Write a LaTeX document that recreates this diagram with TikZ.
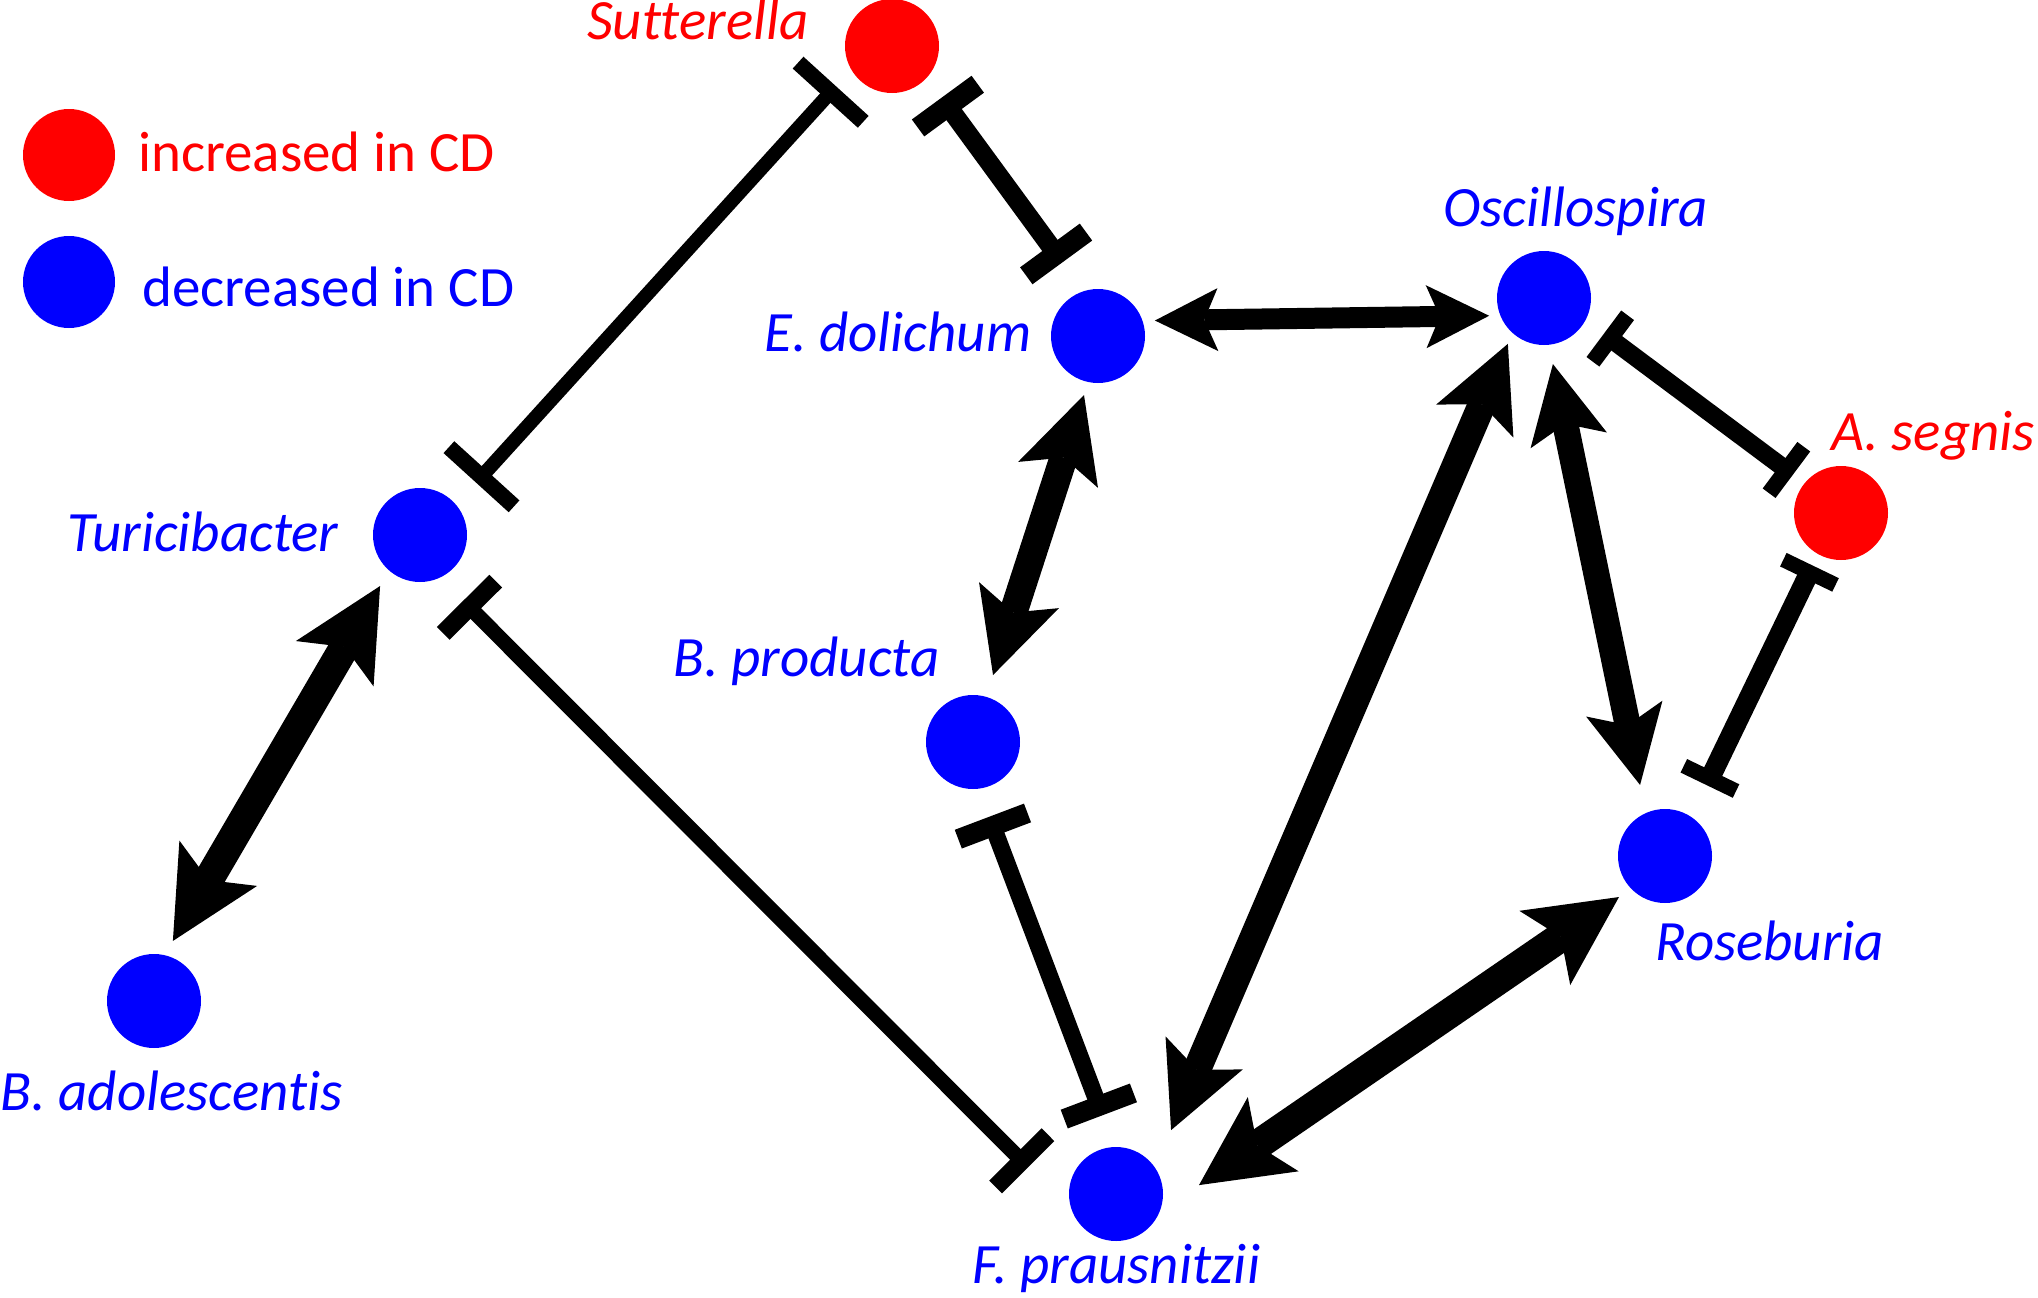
\documentclass[tikz,border=0pt]{standalone}
\usepackage{fontspec}
\setmainfont{Carlito}[Ligatures=NoCommon]
\usepackage{xcolor}
\usetikzlibrary{arrows.meta,positioning}

\definecolor{cdred}{RGB}{255,0,0}
\definecolor{cdblue}{RGB}{0,0,255}

\begin{document}
\begin{tikzpicture}[
  x=1pt, y=-1pt,
  bug/.style={circle, minimum size=94pt, inner sep=0pt, outer sep=0pt},
  incnode/.style={bug, fill=cdred},
  decnode/.style={bug, fill=cdblue},
  lbl/.style={font=\itshape\fontsize{57}{68}\selectfont, inner sep=0pt, anchor=base west},
  keytext/.style={font=\fontsize{57}{68}\selectfont, inner sep=0pt, anchor=base west},
  act/.style={line width=#1, >={Stealth[length=0pt 3, width=0pt 3, inset=0pt 0.65, line width=0pt]}, <->},
  inh/.style n args={3}{line width=#1, {Bar[width=#2, line width=#3]}-{Bar[width=#2, line width=#3]}}
]
\fill[white] (0,0) rectangle (2038,1298);
\useasboundingbox (0,0) rectangle (2038,1298);

% legend
\node[incnode, minimum size=92pt] (inckey) at (69,155) {};
\node[decnode, minimum size=92pt] (deckey) at (69,282) {};
\node[keytext, text=cdred] (inctxt) at (138,171) {increased in CD};
\node[keytext, text=cdblue] (dectxt) at (142,306) {decreased in CD};

% taxa
\node[incnode] (sut) at (892,46) {};
\node[decnode] (edol) at (1098,336) {};
\node[decnode] (osc) at (1544,298) {};
\node[incnode] (aseg) at (1841,513) {};
\node[decnode] (turic) at (420,535) {};
\node[decnode] (bprod) at (973,742) {};
\node[decnode] (roseb) at (1665,856) {};
\node[decnode] (badol) at (154,1001) {};
\node[decnode] (fprau) at (1116,1194) {};

\node[lbl, text=cdred] (sutl) at (587,40) {Sutterella};
\node[lbl, text=cdblue] (edoll) at (764,351) {E. dolichum};
\node[lbl, text=cdblue] (oscl) at (1443,226) {Oscillospira};
\node[lbl, text=cdred] (asegl) at (1831,450) {A. segnis};
\node[lbl, text=cdblue] (turicl) at (67,551) {Turicibacter};
\node[lbl, text=cdblue] (bprodl) at (673,676) {B. producta};
\node[lbl, text=cdblue] (rosebl) at (1655,960) {Roseburia};
\node[lbl, text=cdblue] (badoll) at (0,1110) {B. adolescentis};
\node[lbl, text=cdblue] (fpraul) at (972,1283) {F. prausnitzii};

% positive links
\draw[act=21pt, shorten <=12.5pt, shorten >=11.3pt] (edol.19) -- (osc.202);
\draw[act=28pt, shorten <=13.7pt, shorten >=22.9pt] (edol.258) -- (bprod.74);
\draw[act=28pt, shorten <=11.9pt, shorten >=40.9pt] (osc.228) -- (fprau.34);
\draw[act=26pt, shorten <=19.7pt, shorten >=28.7pt] (osc.276) -- (roseb.114);
\draw[act=30pt, shorten <=48.2pt, shorten >=14.8pt] (fprau.337) -- (roseb.224);
\draw[act=30pt, shorten <=18pt, shorten >=16.5pt] (turic.229) -- (badol.77);

% negative links
\draw[inh={14pt}{88pt}{16pt}, shorten <=22.7pt, shorten >=29.9pt] (sut.210) -- (turic.40);
\draw[inh={19pt}{74pt}{21pt}, shorten <=25pt, shorten >=35.8pt] (sut.318) -- (edol.108);
\draw[inh={15pt}{74pt}{18pt}, shorten <=32.9pt, shorten >=62.7pt] (turic.295) -- (fprau.202);
\draw[inh={17pt}{74pt}{20pt}, shorten <=30pt, shorten >=33.9pt] (bprod.277) -- (fprau.92);
\draw[inh={18pt}{58pt}{16pt}, shorten <=22.9pt, shorten >=14.5pt] (osc.332) -- (aseg.141);
\draw[inh={20pt}{58pt}{15pt}, shorten <=12.7pt, shorten >=35.4pt] (aseg.241) -- (roseb.56);
\end{tikzpicture}
\end{document}
